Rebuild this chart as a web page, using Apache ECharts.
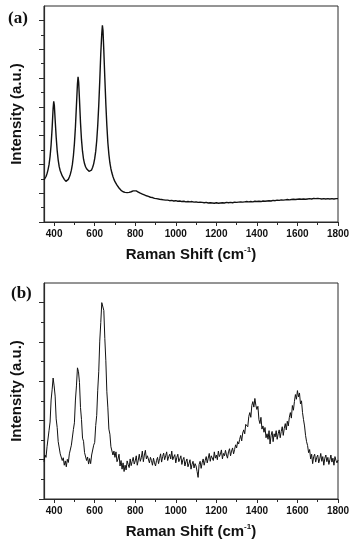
<!DOCTYPE html>
<html>
<head>
<meta charset="utf-8">
<script src="https://cdn.jsdelivr.net/npm/echarts@6/dist/echarts.min.js"></script>
<style>
html,body{margin:0;padding:0;background:#fff;}
#chart{width:353px;height:550px;}
</style>
</head>
<body>
<div id="chart"></div>
<script>
// ---------- DATA ----------
var panelLabels = ['(a)', '(b)'];
var xTitle = 'Raman Shift (cm';
var yTitle = 'Intensity (a.u.)';
var xMajorTicks = [400, 600, 800, 1000, 1200, 1400, 1600, 1800];
var xMinorTicks = [500, 700, 900, 1100, 1300, 1500, 1700];
var yMajorTicksA = [0, 1, 2, 3, 4, 5, 6, 7];
var yMinorTicksA = [0.5, 1.5, 2.5, 3.5, 4.5, 5.5, 6.5];
var yMajorTicksB = [0, 1, 2, 3, 4, 5];
var yMinorTicksB = [0.5, 1.5, 2.5, 3.5, 4.5];

var shiftA = [350,355,360,365,370,375,380,385,390,395,398,401,405,410,415,420,425,430,440,450,458,465,470,475,480,485,490,495,500,505,510,515,518,521,525,530,535,540,545,550,555,560,566,572,578,584,590,595,600,605,610,615,620,625,630,635,638,641,645,650,655,660,665,670,675,680,685,690,695,700,710,720,730,740,750,760,770,780,790,798,805,815,825,835,845,855,865,875,885,895,905,
910,920,930,940,950,960,970,980,990,1000,1010,1020,1030,1040,1050,1060,1070,1080,1090,1100,1110,1120,1130,1140,1150,1160,1170,1180,1190,1200,1210,1220,1230,1240,1250,1260,1270,1280,1290,1300,1310,1320,1330,1340,1350,1360,1370,1380,1390,1400,1410,1420,1430,1440,1450,1460,1470,1480,1490,1500,1510,1520,1530,1540,1550,1560,1570,1580,1590,1600,1610,1620,1630,1640,1650,1660,1670,1680,1690,1700,1710,1720,1730,1740,1750,1760,1770,1780,1790,1800];
var intensityA = [1.46,1.50,1.58,1.68,1.82,2.00,2.28,2.68,3.25,3.95,4.19,4.05,3.55,2.95,2.48,2.15,1.92,1.78,1.60,1.48,1.41,1.43,1.48,1.56,1.66,1.80,2.00,2.30,2.72,3.30,4.05,4.80,5.04,4.85,4.25,3.45,2.85,2.45,2.18,2.02,1.92,1.85,1.79,1.76,1.76,1.80,1.90,2.02,2.20,2.45,2.82,3.35,4.05,4.90,5.85,6.55,6.83,6.65,5.95,5.00,4.10,3.35,2.75,2.35,2.05,1.85,1.70,1.58,1.48,1.40,1.28,1.18,1.10,1.05,1.03,1.02,1.03,1.05,1.08,1.10,1.08,1.04,1.00,0.97,0.94,0.91,0.89,0.86,0.85,0.82,0.81,
0.80,0.79,0.78,0.77,0.76,0.76,0.74,0.75,0.73,0.74,0.72,0.73,0.71,0.72,0.70,0.71,0.70,0.71,0.69,0.70,0.68,0.69,0.68,0.67,0.68,0.66,0.67,0.66,0.65,0.67,0.65,0.66,0.67,0.66,0.68,0.67,0.68,0.67,0.69,0.68,0.69,0.70,0.69,0.70,0.71,0.70,0.71,0.70,0.72,0.71,0.72,0.71,0.73,0.72,0.73,0.74,0.73,0.75,0.74,0.76,0.75,0.77,0.76,0.77,0.78,0.77,0.78,0.79,0.78,0.79,0.80,0.79,0.80,0.79,0.80,0.81,0.80,0.82,0.81,0.82,0.81,0.80,0.81,0.80,0.81,0.80,0.81,0.80,0.81,0.81];

var shiftB = [
350,355,360,365,370,375,380,385,390,395,
400,405,410,415,420,425,430,435,440,445,
450,455,460,465,470,475,480,485,490,495,
500,505,510,515,520,525,530,535,540,545,
550,555,560,565,570,575,580,585,590,595,
600,605,610,615,620,625,630,635,640,645,
650,655,660,665,670,675,680,685,690,695,
700,705,710,715,720,725,730,735,740,745,
750,755,760,765,770,775,780,785,790,795,
800,805,810,815,820,825,830,835,840,845,
850,855,860,865,870,875,880,885,890,895,
900,905,910,915,920,925,930,935,940,945,
950,955,960,965,970,975,980,985,990,995,
1000,1005,1010,1015,1020,1025,1030,1035,1040,1045,
1050,1055,1060,1065,1070,1075,1080,1085,1090,1095,
1100,1105,1110,1115,1120,1125,1130,1135,1140,1145,
1150,1155,1160,1165,1170,1175,1180,1185,1190,1195,
1200,1205,1210,1215,1220,1225,1230,1235,1240,1245,
1250,1255,1260,1265,1270,1275,1280,1285,1290,1295,
1300,1305,1310,1315,1320,1325,1330,1335,1340,1345,
1350,1355,1360,1365,1370,1375,1380,1385,1390,1395,
1400,1405,1410,1415,1420,1425,1430,1435,1440,1445,
1450,1455,1460,1465,1470,1475,1480,1485,1490,1495,
1500,1505,1510,1515,1520,1525,1530,1535,1540,1545,
1550,1555,1560,1565,1570,1575,1580,1585,1590,1595,
1600,1605,1610,1615,1620,1625,1630,1635,1640,1645,
1650,1655,1660,1665,1670,1675,1680,1685,1690,1695,
1700,1705,1710,1715,1720,1725,1730,1735,1740,1745,
1750,1755,1760,1765,1770,1775,1780,1785,1790,1795,
1800];
var intensityB = [
0.95,1.12,1.06,1.33,1.36,1.75,1.96,2.52,2.78,3.08,
2.88,2.62,2.04,1.82,1.46,1.42,1.15,1.19,0.98,1.05,
0.86,0.97,0.82,1.01,0.93,1.15,1.11,1.37,1.42,1.77,
1.94,2.52,2.88,3.34,3.24,2.97,2.33,2.02,1.55,1.47,
1.18,1.20,0.98,1.07,0.89,1.03,0.90,1.12,1.08,1.37,
1.44,1.87,2.13,2.77,3.24,4.02,4.49,5.00,5.04,4.80,
4.09,3.52,2.73,2.32,1.78,1.65,1.33,1.36,1.12,1.22,
1.06,1.20,0.95,1.02,1.14,0.84,0.98,0.76,0.92,0.70,
0.86,0.74,0.97,0.88,0.80,1.02,0.85,0.96,1.06,0.89,
0.97,1.10,0.86,0.99,1.14,0.96,1.05,1.22,0.95,1.12,
1.24,1.02,1.10,1.15,0.92,1.06,0.98,0.86,1.04,0.92,
0.84,0.98,1.06,0.90,1.03,1.15,0.94,1.08,1.17,1.00,
1.10,1.20,0.98,1.08,1.14,1.02,1.22,1.00,1.07,1.13,
0.92,1.06,1.14,0.95,1.02,1.10,0.88,1.00,1.06,0.84,
0.95,1.02,0.82,0.90,1.00,0.76,0.88,0.96,0.79,0.90,
0.84,0.70,0.55,0.88,0.96,0.78,0.92,1.02,0.86,0.98,
1.08,0.92,1.04,1.16,0.96,1.10,1.06,0.98,1.20,1.04,
1.12,1.00,1.22,1.08,1.14,1.25,1.02,1.16,1.10,1.24,
1.12,1.04,1.20,1.28,1.10,1.22,1.30,1.15,1.26,1.38,
1.30,1.46,1.40,1.52,1.62,1.48,1.68,1.76,1.66,1.90,
1.95,1.84,2.10,2.20,2.08,2.38,2.48,2.34,2.56,2.38,
2.28,2.36,2.02,1.92,2.08,1.78,1.86,1.70,1.82,1.56,
1.66,1.52,1.74,1.40,1.62,1.72,1.46,1.66,1.58,1.74,
1.52,1.66,1.76,1.56,1.72,1.84,1.62,1.80,1.92,1.76,
1.98,1.86,2.08,2.20,2.06,2.38,2.26,2.48,2.66,2.54,
2.76,2.60,2.70,2.42,2.50,2.20,2.02,1.86,1.62,1.46,
1.36,1.18,1.26,1.02,1.14,0.90,1.08,1.14,0.94,1.06,
1.12,0.92,1.02,1.16,0.96,1.08,0.86,1.04,1.12,0.95,
1.06,0.88,1.00,1.12,0.94,1.04,0.86,1.08,0.98,0.92,
0.99];

// ---------- CHART ----------
var axisColor = '#2a2a2a';
var labelFont = 'Liberation Sans, Arial, sans-serif';

function pairs(xs, ys) { return xs.map(function (x, i) { return [x, ys[i]]; }); }

function xAxes(gridIndex) {
  return [{
    type: 'value', gridIndex: gridIndex, min: 350, max: 1800,
    axisLine: { show: true, lineStyle: { color: axisColor, width: 1.2 } },
    axisTick: { show: true, inside: false, length: 4, customValues: xMajorTicks, lineStyle: { color: axisColor, width: 1 } },
    axisLabel: { show: true, customValues: xMajorTicks, margin: 7, color: '#111', fontFamily: labelFont, fontWeight: 'bold', fontSize: 10,
      formatter: function (v) { return String(v); } },
    splitLine: { show: false },
    name: '{t|' + xTitle + '}{s|-1}{t|)}',
    nameLocation: 'middle', nameGap: 24,
    nameTextStyle: { rich: {
      t: { fontFamily: labelFont, fontWeight: 'bold', fontSize: 15, color: '#111' },
      s: { fontFamily: labelFont, fontWeight: 'bold', fontSize: 8, color: '#111', verticalAlign: 'top', padding: [0, 0, 10, 0] }
    } }
  }, {
    type: 'value', gridIndex: gridIndex, min: 350, max: 1800, position: 'bottom',
    axisLine: { show: false },
    axisTick: { show: true, length: 3, customValues: xMinorTicks, lineStyle: { color: axisColor, width: 1 } },
    axisLabel: { show: false }, splitLine: { show: false }
  }];
}

function yAxes(gridIndex, max, major, minor) {
  return [{
    type: 'value', gridIndex: gridIndex, min: 0, max: max,
    axisLine: { show: true, lineStyle: { color: axisColor, width: 1.2 } },
    axisTick: { show: true, length: 5, customValues: major, lineStyle: { color: axisColor, width: 1 } },
    axisLabel: { show: false },
    splitLine: { show: false },
    name: yTitle, nameLocation: 'middle', nameGap: 20, nameRotate: 90,
    nameTextStyle: { fontFamily: labelFont, fontWeight: 'bold', fontSize: 15, color: '#111' }
  }, {
    type: 'value', gridIndex: gridIndex, min: 0, max: max, position: 'left',
    axisLine: { show: false },
    axisTick: { show: true, length: 3, customValues: minor, lineStyle: { color: axisColor, width: 1 } },
    axisLabel: { show: false }, splitLine: { show: false }
  }];
}

var chart = echarts.init(document.getElementById('chart'), null, { renderer: 'canvas' });
var option = {
  animation: false,
  backgroundColor: '#fff',
  title: [
    { text: panelLabels[0], left: 3, top: 5, textStyle: { fontFamily: 'Liberation Serif, Times New Roman, serif', fontWeight: 'bold', fontSize: 17, color: '#111' } },
    { text: panelLabels[1], left: 6, top: 280, textStyle: { fontFamily: 'Liberation Serif, Times New Roman, serif', fontWeight: 'bold', fontSize: 17, color: '#111' } }
  ],
  grid: [
    { left: 44, right: 15, top: 6, height: 216, show: true, borderColor: axisColor, borderWidth: 1, backgroundColor: 'transparent' },
    { left: 44, right: 15, top: 283, height: 216, show: true, borderColor: axisColor, borderWidth: 1, backgroundColor: 'transparent' }
  ],
  xAxis: xAxes(0).concat(xAxes(1)),
  yAxis: yAxes(0, 7.5, yMajorTicksA, yMinorTicksA).concat(yAxes(1, 5.5, yMajorTicksB, yMinorTicksB)),
  series: [
    { type: 'line', xAxisIndex: 0, yAxisIndex: 0, data: pairs(shiftA, intensityA), showSymbol: false, symbol: 'none',
      lineStyle: { color: '#111', width: 1.4 } },
    { type: 'line', xAxisIndex: 2, yAxisIndex: 2, data: pairs(shiftB, intensityB), showSymbol: false, symbol: 'none',
      lineStyle: { color: '#111', width: 1.0 } }
  ]
};
chart.setOption(option);
</script>
</body>
</html>
